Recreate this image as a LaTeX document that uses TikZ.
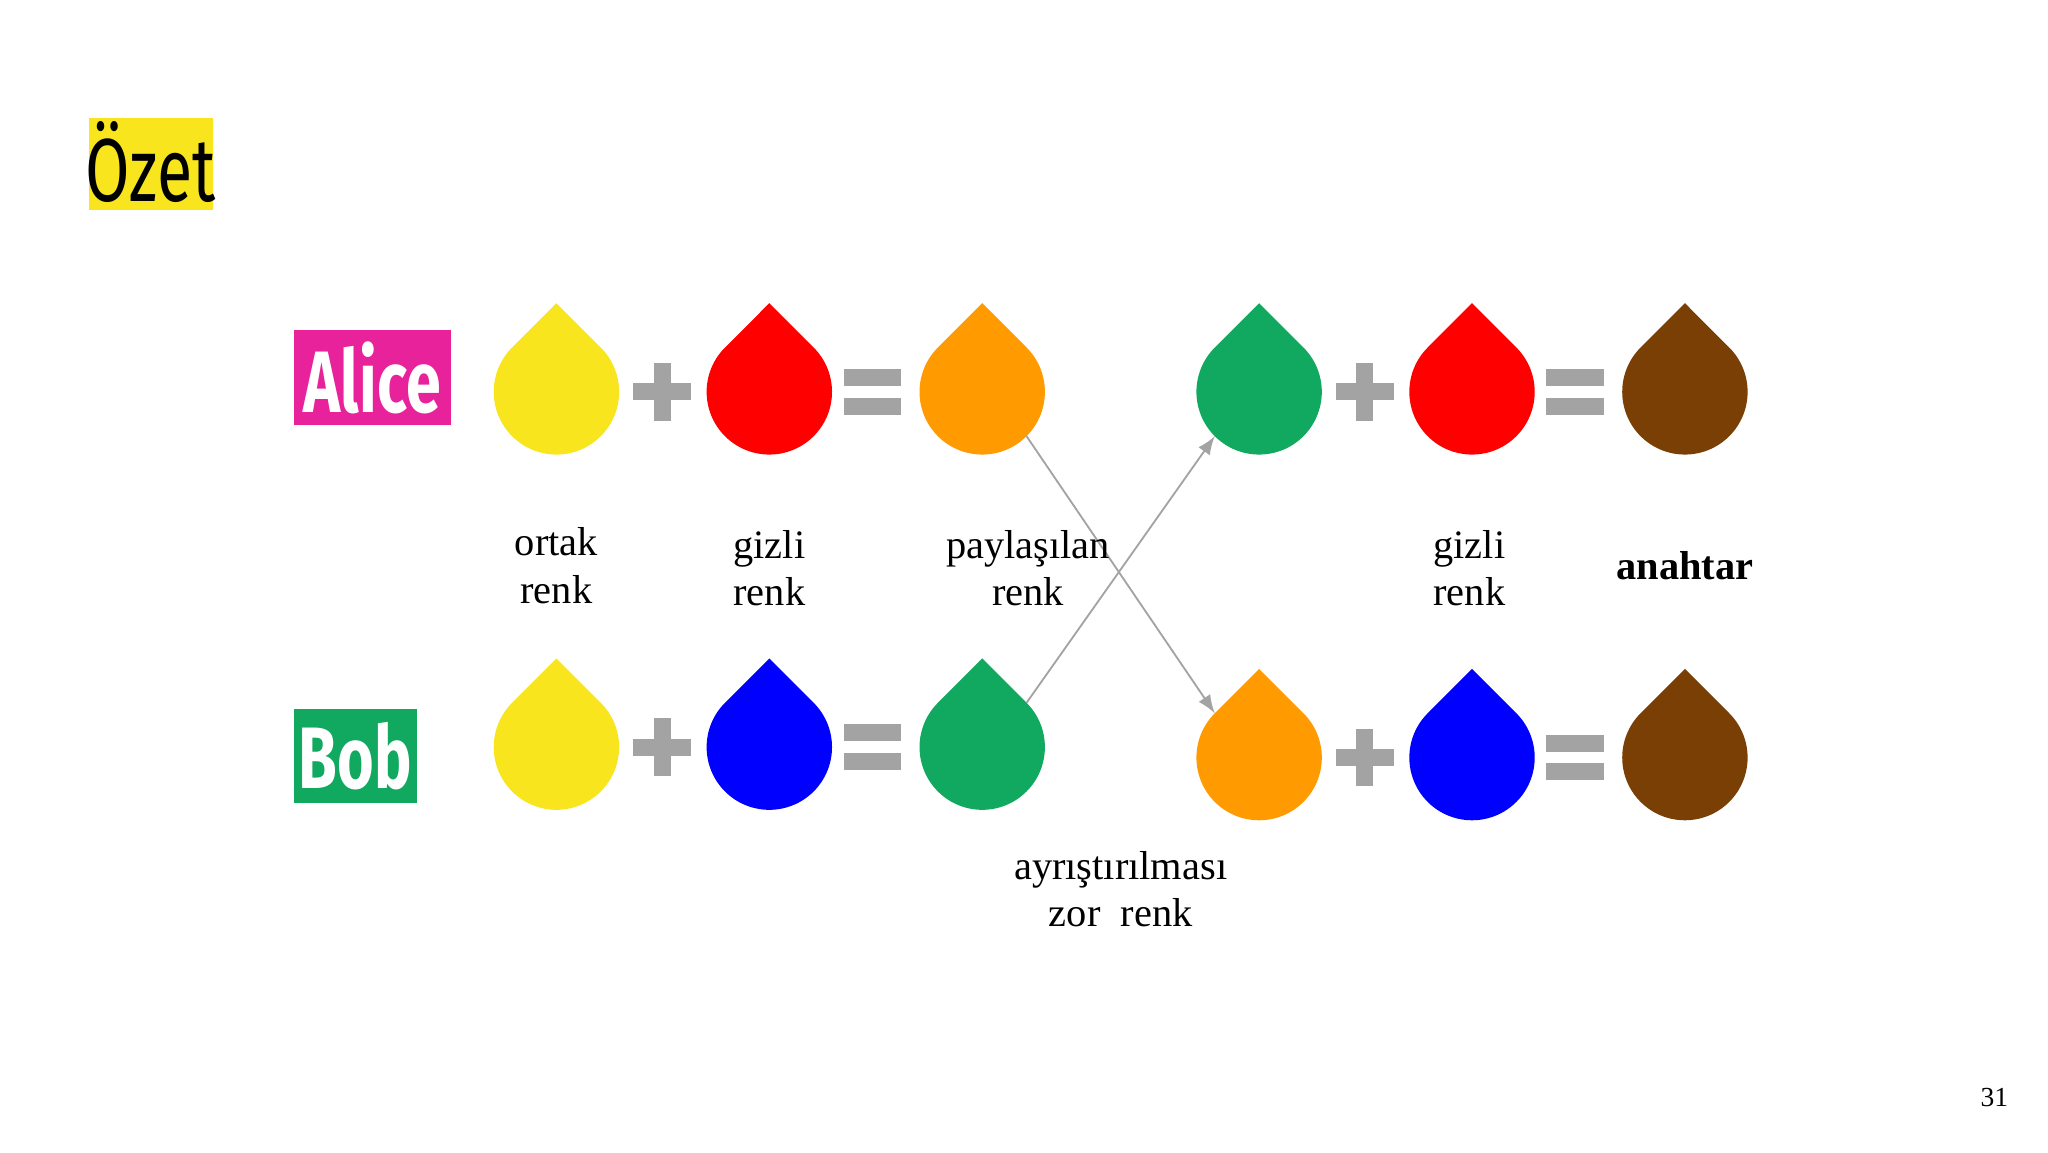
\documentclass[tikz,border=0pt]{standalone}
\usepackage{fontspec}
\setmainfont{Liberation Serif}
\newfontfamily\headfont{Fira Sans}[FakeStretch=0.72]
\usetikzlibrary{calc}

\definecolor{dyellow}{HTML}{F8E51E}
\definecolor{dred}{HTML}{FF0000}
\definecolor{dorange}{HTML}{FF9A00}
\definecolor{dgreen}{HTML}{11A95F}
\definecolor{dblue}{HTML}{0000FF}
\definecolor{dbrown}{HTML}{7A3F04}
\definecolor{opgray}{HTML}{A3A3A3}
\definecolor{alicepink}{HTML}{E8229A}

\newcommand{\drop}[3]{% name, position, colour
    \coordinate (#1) at (#2);
    \fill[#3] ($(#1)+(0,0.679)$) -- ($(#1)+(135:0.48)$)
        arc[start angle=135, end angle=405, radius=0.48] -- cycle;
}
\newcommand{\plussign}[1]{%
    \fill[opgray] ($(#1)+(-0.22,-0.065)$) rectangle ($(#1)+(0.22,0.065)$);
    \fill[opgray] ($(#1)+(-0.065,-0.22)$) rectangle ($(#1)+(0.065,0.22)$);
}
\newcommand{\eqsign}[1]{%
    \fill[opgray] ($(#1)+(-0.22,0.045)$) rectangle ($(#1)+(0.22,0.175)$);
    \fill[opgray] ($(#1)+(-0.22,-0.045)$) rectangle ($(#1)+(0.22,-0.175)$);
}

\tikzset{
    lbl/.style={align=center, font=\fontsize{8.8}{10.3}\selectfont},
    tag/.style={inner sep=0pt, text=white, font=\headfont\bfseries\fontsize{19}{19}\selectfont},
    pass/.style={draw=opgray, thin, -latex}
}

\begin{document}
\begin{tikzpicture}
    \useasboundingbox (0,0) rectangle (15.68,-8.82);

    \fill[dyellow] (0.68,-0.90) rectangle (1.63,-1.61);
    \node[inner sep=0pt, font=\headfont\fontsize{19.5}{19.5}\selectfont] (title) at (1.155,-1.24) {Özet};

    \fill[alicepink] (2.25,-2.53) rectangle (3.45,-3.25);
    \node[tag] (alice) at (2.85,-2.89) {Alice};
    \fill[dgreen] (2.25,-5.43) rectangle (3.19,-6.15);
    \node[tag] (bob) at (2.72,-5.79) {Bob};

    % alice row
    \drop{a1}{4.26,-3.00}{dyellow}
    \plussign{5.07,-3.00}
    \drop{a2}{5.89,-3.00}{dred}
    \eqsign{6.68,-3.00}
    \drop{a3}{7.52,-3.00}{dorange}
    \drop{a4}{9.64,-3.00}{dgreen}
    \plussign{10.45,-3.00}
    \drop{a5}{11.27,-3.00}{dred}
    \eqsign{12.06,-3.00}
    \drop{a6}{12.90,-3.00}{dbrown}

    % bob row
    \drop{b1}{4.26,-5.72}{dyellow}
    \plussign{5.07,-5.72}
    \drop{b2}{5.89,-5.72}{dblue}
    \eqsign{6.68,-5.72}
    \drop{b3}{7.52,-5.72}{dgreen}
    \drop{b4}{9.64,-5.80}{dorange}
    \plussign{10.45,-5.80}
    \drop{b5}{11.27,-5.80}{dblue}
    \eqsign{12.06,-5.80}
    \drop{b6}{12.90,-5.80}{dbrown}

    \draw[pass] ($(a3)+(-45:0.48)$) -- ($(b4)+(135:0.48)$);
    \draw[pass] ($(b3)+(45:0.48)$) -- ($(a4)+(225:0.48)$);

    \node[lbl] (l1) at (4.26,-4.33) {ortak\\renk};
    \node[lbl] (l2) at (5.89,-4.35) {gizli\\renk};
    \node[lbl] (l3) at (7.87,-4.35) {paylaşılan\\renk};
    \node[lbl] (l4) at (11.25,-4.35) {gizli\\renk};
    \node[lbl, font=\bfseries\fontsize{8.8}{10.3}\selectfont] (l5) at (12.90,-4.33) {anahtar};
    \node[lbl] (l6) at (8.58,-6.81) {ayrıştırılması\\zor\ \ renk};

    \node[font=\fontsize{6}{6}\selectfont] (page) at (15.27,-8.40) {31};
\end{tikzpicture}
\end{document}
